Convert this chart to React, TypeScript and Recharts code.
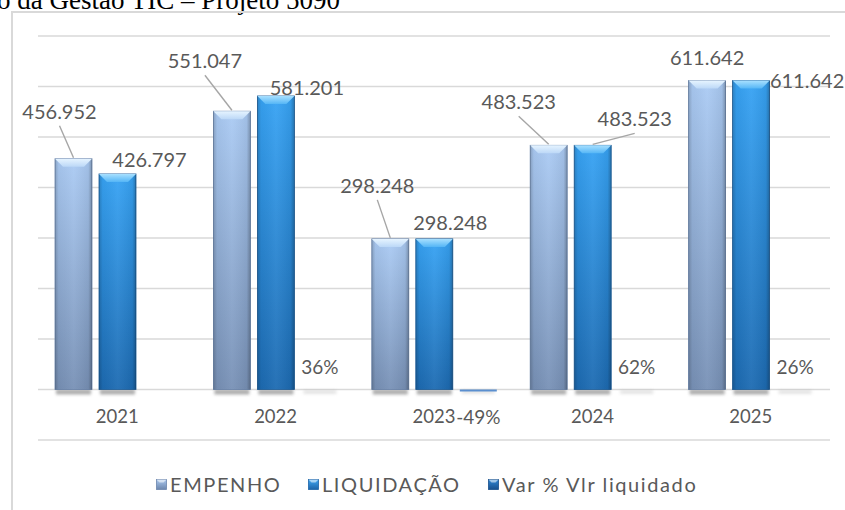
import { BarChart, Bar, XAxis, YAxis, CartesianGrid, LabelList } from 'recharts';

const years = ['2021', '2022', '2023', '2024', '2025'];
const empenho = [456952, 551047, 298248, 483523, 611642];
const liquidacao = [426797, 581201, 298248, 483523, 611642];
const varLiquidado = [null, 0.36, -0.49, 0.62, 0.26];
const valueTicks = [-100000, 0, 100000, 200000, 300000, 400000, 500000, 600000, 700000];

const data = years.map((year, i) => ({
  year,
  empenho: empenho[i],
  liquidacao: liquidacao[i],
  varLiq: varLiquidado[i],
}));

// label nudges (px) from the top centre of each bar, like the hand-moved excel labels
const empNudge = [[-14, -47], [-27, -50], [-13, -53], [-30, -43], [0, -23]];
const empLeader = [true, true, true, true, false];
const liqNudge = [[32, -14], [31, -8], [16, -16], [42, -26], [56, 0]];
const liqLeader = [false, false, false, true, false];

const FONT = 'Lato, "Open Sans", sans-serif';
const GREY = '#595959';

const fmt = (n: number) => String(n).replace(/\B(?=(\d{3})+(?!\d))/g, '.');

const tones: any = {
  emp: { body: 'url(#empBody)', bevel: 'url(#empBevel)', edge: '#6580a8' },
  liq: { body: 'url(#liqBody)', bevel: 'url(#liqBevel)', edge: '#1a5a97' },
};

function BevelBar(props: any) {
  const { x, y, width, height, tone } = props;
  if (height == null || width == null) return null;
  const top = Math.min(y, y + height);
  const h = Math.abs(height);
  const t = tones[tone];
  const b = Math.min(8, h / 2);
  const bottom = top + h;
  return (
    <g>
      <rect x={x + 1} y={bottom} width={width - 2} height={5} fill="#6b6b6b" opacity={0.55} filter="url(#barShadow)" />
      <rect x={x} y={top} width={width} height={h} fill={t.body} stroke={t.edge} strokeWidth={0.8} />
      <rect x={x} y={top} width={width} height={h} fill="url(#sideShade)" />
      <polygon
        points={`${x},${top} ${x + width},${top} ${x + width - b},${top + b} ${x + b},${top + b}`}
        fill={t.bevel}
      />
    </g>
  );
}

function VarBar(props: any) {
  const { x, y, width, height, value } = props;
  if (value == null || width == null) return null;
  const top = Math.min(y, y + (height || 0));
  const h = Math.abs(height || 0);
  return (
    <g>
      <rect x={x + 2} y={390} width={width - 4} height={4} fill="#9a9a9a" opacity={0.25} filter="url(#barShadow)" />
      {value < 0 && <rect x={x} y={top} width={width} height={Math.max(h, 1.5)} fill="#5b8fcf" />}
    </g>
  );
}

const boxOf = (p: any) => {
  const vb = p.viewBox ?? {};
  return {
    x: p.x ?? vb.x,
    y: p.y ?? vb.y,
    width: p.width ?? vb.width,
    height: p.height ?? vb.height,
  };
};

function makeValueLabel(series: number[], nudges: number[][], leaders: boolean[]) {
  return (p: any) => {
    if (p.value == null) return null;
    const i = p.index ?? series.indexOf(p.value);
    const { x, y, width, height } = boxOf(p);
    const top = Math.min(y, y + height);
    const cx = x + width / 2;
    const lx = cx + nudges[i][0];
    const ly = top + nudges[i][1];
    return (
      <g>
        {leaders[i] && <line x1={lx} y1={ly + 14} x2={cx} y2={top - 1} stroke="#a6a6a6" strokeWidth={1.4} />}
        <text x={lx} y={ly + 7} textAnchor="middle" fill={GREY} fontSize={20} fontFamily={FONT}>
          {fmt(p.value)}
        </text>
      </g>
    );
  };
}

function PercentLabel(p: any) {
  if (p.value == null) return null;
  const { x, width } = boxOf(p);
  const cx = x + width / 2;
  const v = p.value as number;
  const ty = v < 0 ? 390 + 33.5 : 390 - 16.5;
  return (
    <text x={cx} y={ty} textAnchor="middle" fill={GREY} fontSize={19} fontFamily={FONT}>
      {`${Math.round(v * 100)}%`}
    </text>
  );
}

function YearTick(p: any) {
  return (
    <text x={p.x} y={p.y - 17} textAnchor="middle" fill={GREY} fontSize={18.5} fontFamily={FONT}>
      {p.payload.value}
    </text>
  );
}

function LegendIcon({ c1, c2 }: { c1: string; c2: string }) {
  return (
    <svg width={11} height={11} style={{ marginRight: 3 }}>
      <defs>
        <linearGradient id={`lg${c1}`} x1="0" y1="0" x2="0" y2="1">
          <stop offset="0" stopColor={c1} />
          <stop offset="1" stopColor={c2} />
        </linearGradient>
      </defs>
      <rect x={0.5} y={0.5} width={10} height={10} fill={`url(#lg${c1})`} stroke={c2} strokeWidth={0.8} />
      <polygon points="0.5,0.5 10.5,0.5 7.5,3.5 3.5,3.5" fill="#ffffff" opacity={0.55} />
    </svg>
  );
}

const legendItems = [
  { name: 'EMPENHO', c1: '#a9c7ee', c2: '#6c86ad', left: 156 },
  { name: 'LIQUIDAÇÃO', c1: '#3fa6f2', c2: '#1c64a8', left: 308 },
  { name: 'Var % Vlr liquidado', c1: '#2f86d4', c2: '#174f8c', left: 488 },
];

export default function App() {
  return (
    <div style={{ position: 'fixed', left: 0, top: 0, width: 845, height: 510, overflow: 'hidden', background: '#fff' }}>
      <svg width={845} height={20} style={{ position: 'absolute', left: 0, top: 0 }}>
        <text x={-3} y={9} fontSize={27} fontFamily='"Liberation Serif", "Times New Roman", serif' fill="#000">
          o da Gestão TIC – Projeto 5090
        </text>
      </svg>
      <div
        style={{
          position: 'absolute',
          left: 11,
          top: 11,
          width: 900,
          height: 560,
          border: '2px solid #d9d9d9',
          boxSizing: 'border-box',
        }}
      />
      <div style={{ position: 'absolute', left: 0, top: 0 }}>
        <BarChart
          width={845}
          height={510}
          data={data}
          margin={{ top: 36, right: 15, bottom: 40, left: 38 }}
          barGap={7}
          barCategoryGap={17}
        >
          <defs>
            <linearGradient id="empBody" x1="0" y1="0" x2="0" y2="1">
              <stop offset="0" stopColor="#abcbf4" />
              <stop offset="1" stopColor="#7891b6" />
            </linearGradient>
            <linearGradient id="liqBody" x1="0" y1="0" x2="0" y2="1">
              <stop offset="0" stopColor="#37a3f4" />
              <stop offset="1" stopColor="#1d6bb2" />
            </linearGradient>
            <linearGradient id="empBevel" x1="0" y1="0" x2="0" y2="1">
              <stop offset="0" stopColor="#e6f4ff" />
              <stop offset="1" stopColor="#bcd8f7" />
            </linearGradient>
            <linearGradient id="liqBevel" x1="0" y1="0" x2="0" y2="1">
              <stop offset="0" stopColor="#a8e0ff" />
              <stop offset="1" stopColor="#55b6f6" />
            </linearGradient>
            <linearGradient id="sideShade" x1="0" y1="0" x2="1" y2="0">
              <stop offset="0" stopColor="#000" stopOpacity={0.2} />
              <stop offset="0.1" stopColor="#000" stopOpacity={0.04} />
              <stop offset="0.5" stopColor="#fff" stopOpacity={0.05} />
              <stop offset="0.9" stopColor="#000" stopOpacity={0.06} />
              <stop offset="1" stopColor="#000" stopOpacity={0.28} />
            </linearGradient>
            <filter id="barShadow" x="-20%" y="-100%" width="140%" height="300%">
              <feGaussianBlur stdDeviation={1.4} />
            </filter>
          </defs>
          <CartesianGrid vertical={false} stroke="#d9d9d9" strokeWidth={1.5} />
          <XAxis
            dataKey="year"
            axisLine={false}
            tickLine={false}
            tickSize={0}
            tickMargin={0}
            height={30}
            tick={YearTick}
            interval={0}
          />
          <YAxis hide domain={[-100000, 700000]} ticks={valueTicks} allowDataOverflow />
          <Bar dataKey="empenho" isAnimationActive={false} shape={(p: any) => <BevelBar {...p} tone="emp" />}>
            <LabelList dataKey="empenho" content={makeValueLabel(empenho, empNudge, empLeader)} />
          </Bar>
          <Bar dataKey="liquidacao" isAnimationActive={false} shape={(p: any) => <BevelBar {...p} tone="liq" />}>
            <LabelList dataKey="liquidacao" content={makeValueLabel(liquidacao, liqNudge, liqLeader)} />
          </Bar>
          <Bar
            dataKey="varLiq"
            isAnimationActive={false}
            minPointSize={(v: any) => (v != null && v < 0 ? 2 : 0)}
            shape={(p: any) => <VarBar {...p} />}
          >
            <LabelList dataKey="varLiq" content={PercentLabel} />
          </Bar>
        </BarChart>
      </div>
      {legendItems.map((it) => (
        <div
          key={it.name}
          style={{
            position: 'absolute',
            left: it.left,
            top: 472,
            display: 'flex',
            alignItems: 'center',
            fontFamily: FONT,
            fontSize: 20,
            letterSpacing: 1.6,
            color: GREY,
            whiteSpace: 'nowrap',
          }}
        >
          <LegendIcon c1={it.c1} c2={it.c2} />
          <span>{it.name}</span>
        </div>
      ))}
    </div>
  );
}
